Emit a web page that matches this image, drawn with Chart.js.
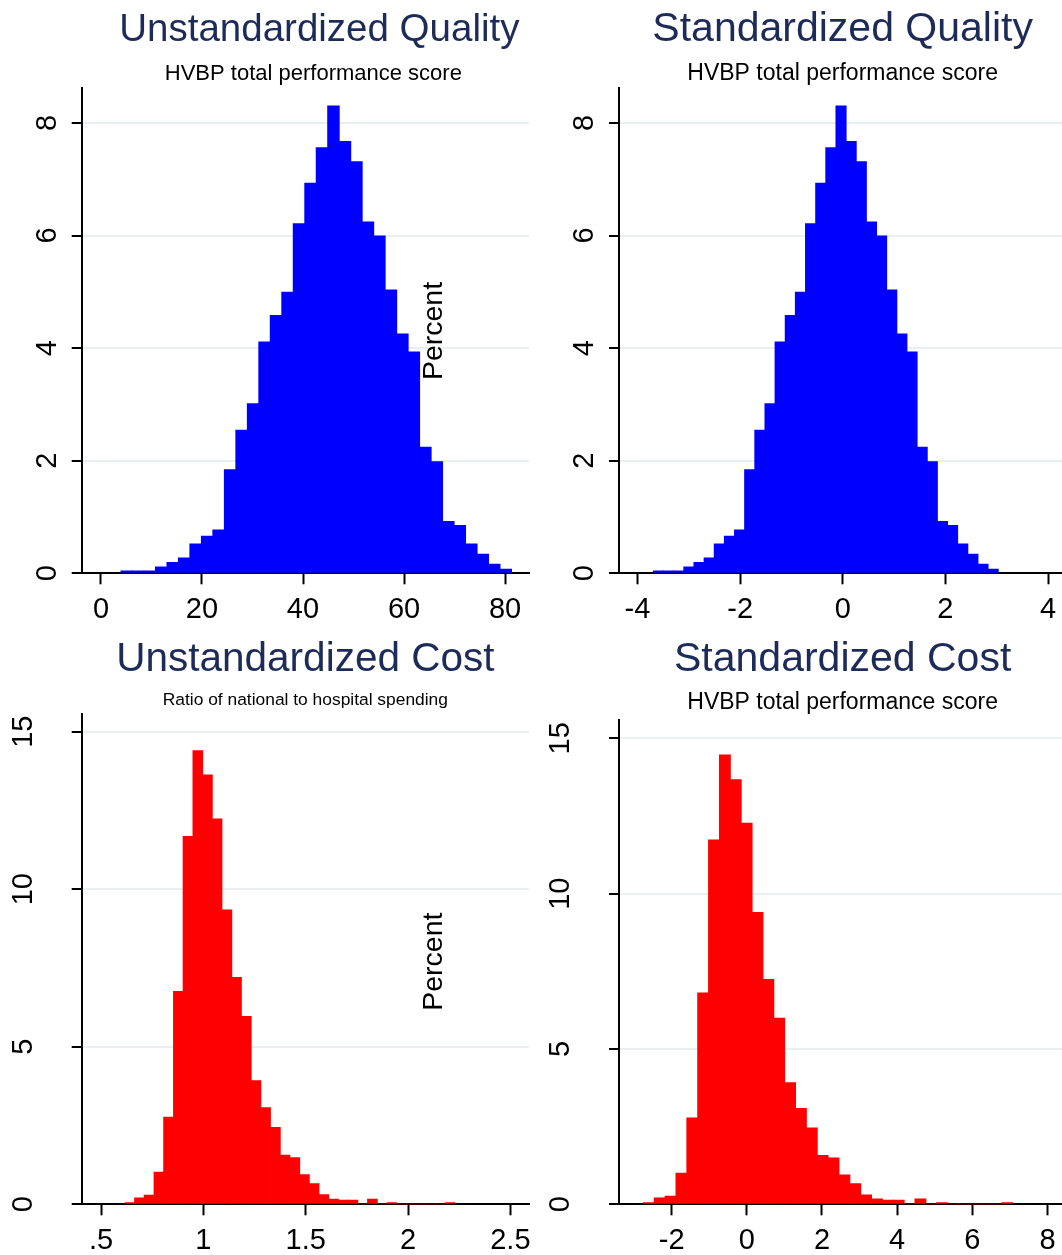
<!DOCTYPE html>
<html>
<head>
<meta charset="utf-8">
<script src="https://cdn.jsdelivr.net/npm/chart.js@4.4.1/dist/chart.umd.min.js"></script>
<style>
  html, body { margin: 0; padding: 0; background: #fff; overflow: hidden; }
  #wrap { position: relative; width: 1062px; height: 1255px; overflow: hidden; }
  canvas { position: absolute; }
</style>
</head>
<body>
<div id="wrap">
  <canvas id="c1" width="531" height="630" style="left:0;top:0"></canvas>
  <canvas id="c2" width="540" height="630" style="left:531px;top:0"></canvas>
  <canvas id="c3" width="531" height="625" style="left:0;top:630px"></canvas>
  <canvas id="c4" width="540" height="625" style="left:531px;top:630px"></canvas>
</div>
<script>
// histogram bins: mid-points and percent of hospitals in each bin
const qualityRawBins = [5.10, 7.37, 9.65, 11.92, 14.20, 16.47, 18.74, 21.02, 23.29, 25.57, 27.84, 30.12,
  32.39, 34.66, 36.94, 39.21, 41.49, 43.76, 46.03, 48.31, 50.58, 52.86, 55.13, 57.41, 59.68, 61.95,
  64.23, 66.50, 68.78, 71.05, 73.33, 75.60, 77.87, 80.15];
const qualityStdBins = [-3.591, -3.393, -3.196, -2.998, -2.801, -2.603, -2.405, -2.208, -2.010, -1.813,
  -1.615, -1.417, -1.220, -1.022, -0.825, -0.627, -0.429, -0.232, -0.034, 0.163, 0.361, 0.559, 0.756,
  0.954, 1.151, 1.349, 1.547, 1.744, 1.942, 2.139, 2.337, 2.535, 2.732, 2.930];
const qualityPct = [0.04, 0.04, 0.04, 0.11, 0.19, 0.27, 0.52, 0.66, 0.77, 1.84, 2.54, 3.01, 4.11, 4.58,
  4.99, 6.21, 6.93, 7.56, 8.30, 7.67, 7.31, 6.24, 5.99, 5.03, 4.25, 3.93, 2.24, 1.98, 0.92, 0.85, 0.52,
  0.34, 0.16, 0.07];

const costRawBins = [0.641, 0.688, 0.735, 0.783, 0.830, 0.878, 0.925, 0.973, 1.020, 1.067, 1.115, 1.162,
  1.210, 1.257, 1.304, 1.352, 1.399, 1.447, 1.494, 1.541, 1.589, 1.636, 1.684, 1.731, 1.778, 1.826,
  1.873, 1.921, 1.968, 2.016, 2.063, 2.110, 2.158, 2.205];
const costRawPct = [0.05, 0.20, 0.29, 1.02, 2.76, 6.75, 11.67, 14.39, 13.62, 12.23, 9.34, 7.20, 5.96,
  3.92, 3.06, 2.44, 1.56, 1.48, 0.94, 0.65, 0.30, 0.16, 0.13, 0.13, 0, 0.16, 0, 0.05, 0, 0, 0, 0, 0, 0.05];
const costStdBins = [-2.606, -2.317, -2.028, -1.739, -1.450, -1.161, -0.872, -0.583, -0.294, -0.005,
  0.284, 0.573, 0.862, 1.151, 1.440, 1.729, 2.018, 2.307, 2.596, 2.885, 3.174, 3.463, 3.752, 4.041,
  4.330, 4.619, 4.908, 5.197, 5.486, 5.775, 6.064, 6.353, 6.642, 6.931];
const costStdPct = [0.05, 0.20, 0.26, 1.00, 2.78, 6.80, 11.73, 14.46, 13.67, 12.27, 9.39, 7.24, 5.99,
  3.91, 3.08, 2.46, 1.57, 1.49, 0.94, 0.66, 0.30, 0.17, 0.13, 0.13, 0, 0.17, 0, 0.05, 0, 0, 0, 0, 0, 0.05];

// axis ticks and their labels
const qualityRawTicks = [0, 20, 40, 60, 80];
const qualityRawLabels = ['0', '20', '40', '60', '80'];
const qualityStdTicks = [-4, -2, 0, 2, 4];
const qualityStdLabels = ['-4', '-2', '0', '2', '4'];
const costRawTicks = [0.5, 1, 1.5, 2, 2.5];
const costRawLabels = ['.5', '1', '1.5', '2', '2.5'];
const costStdTicks = [-2, 0, 2, 4, 6, 8];
const costStdLabels = ['-2', '0', '2', '4', '6', '8'];
const qualityYTicks = [0, 2, 4, 6, 8];
const qualityYLabels = ['0', '2', '4', '6', '8'];
const costYTicks = [0, 5, 10, 15];
const costYLabels = ['0', '5', '10', '15'];

const FONT = "'Liberation Sans', Arial, Helvetica, sans-serif";
Chart.defaults.font.family = FONT;

// the stray "Percent" axis title sitting inside the left panels
const percentLabel = {
  id: 'percentLabel',
  afterDraw(chart, args, opts) {
    if (!opts.text) return;
    const ctx = chart.ctx;
    ctx.save();
    ctx.translate(opts.x, opts.y);
    ctx.rotate(-Math.PI / 2);
    ctx.font = opts.size + 'px ' + FONT;
    ctx.fillStyle = '#000';
    ctx.textAlign = 'center';
    ctx.textBaseline = 'middle';
    ctx.fillText(opts.text, 0, 0);
    ctx.restore();
  }
};

// nudge title / subtitle sideways (the first panel's titles sit off-centre)
const titleShift = {
  id: 'titleShift',
  afterLayout(chart, args, opts) {
    chart.boxes.forEach(b => {
      const t = b.options && b.options.text;
      const dx = t === chart.options.plugins.title.text ? opts.title
        : t === chart.options.plugins.subtitle.text ? opts.sub : 0;
      if (dx) { b.left += dx; b.right += dx; }
    });
  }
};

function panel(id, o) {
  return new Chart(document.getElementById(id), {
    type: 'bar',
    data: {
      datasets: [{
        data: o.bins.map((b, i) => ({ x: b, y: o.pct[i] })),
        backgroundColor: o.color,
        borderWidth: 0,
        barPercentage: 1,
        categoryPercentage: 1,
        inflateAmount: 0.5
      }]
    },
    options: {
      responsive: false,
      animation: false,
      devicePixelRatio: 1,
      layout: { padding: { left: 0, top: 0, right: o.padRight, bottom: 0 } },
      plugins: {
        legend: { display: false },
        tooltip: { enabled: false },
        title: {
          display: true, text: o.title, color: '#1d2b59', fullSize: false,
          font: { size: o.titleSize, weight: 'normal' }, padding: { top: o.titleTop, bottom: 0 }
        },
        subtitle: {
          display: true, text: o.sub, color: '#000', fullSize: false,
          font: { size: o.subSize, weight: 'normal' }, padding: { top: o.subTop, bottom: o.subBottom }
        },
        percentLabel: o.percent || {},
        titleShift: o.shift || { title: 0, sub: 0 }
      },
      scales: {
        x: {
          type: 'linear', min: o.xMin, max: o.xMax, offset: false,
          afterBuildTicks: s => { s.ticks = o.xTicks.map(v => ({ value: v })); },
          afterFit: s => { s.height = o.xHeight; s.paddingLeft = 0; s.paddingRight = 0; },
          ticks: {
            autoSkip: false, maxRotation: 0, padding: 8, color: '#000',
            font: { size: 29 }, callback: (v, i) => o.xLabels[i]
          },
          grid: { offset: false, drawOnChartArea: false, tickLength: 11, tickColor: '#000', tickWidth: 2 },
          border: { color: '#000', width: 2 }
        },
        y: {
          type: 'linear', min: 0, max: o.yMax,
          afterBuildTicks: s => { s.ticks = o.yTicks.map(v => ({ value: v })); },
          afterFit: s => { s.width = o.yWidth; s.paddingTop = 0; s.paddingBottom = 0; },
          ticks: {
            minRotation: 90, maxRotation: 90, crossAlign: 'center', padding: o.yPad,
            color: '#000', font: { size: 29 }, callback: (v, i) => o.yLabels[i]
          },
          grid: { color: '#e8f0f2', lineWidth: 2, tickLength: 10, tickColor: '#000', tickWidth: 2 },
          border: { color: '#000', width: 2 }
        }
      }
    },
    plugins: [percentLabel, titleShift]
  });
}

panel('c1', {
  bins: qualityRawBins, pct: qualityPct, color: '#0000ff',
  title: 'Unstandardized Quality', titleSize: 38.5, titleTop: 6.9,
  sub: 'HVBP total performance score', subSize: 22, subTop: 7.5, subBottom: 1,
  xMin: -3.82, xMax: 84.75, xTicks: qualityRawTicks, xLabels: qualityRawLabels, xHeight: 56.7,
  yMax: 8.62, yTicks: qualityYTicks, yLabels: qualityYLabels, yWidth: 81.7, yPad: 15.6,
  padRight: 2, percent: { text: 'Percent', x: 434, y: 331, size: 28.5 },
  shift: { title: 14, sub: 8 }
});

panel('c2', {
  bins: qualityStdBins, pct: qualityPct, color: '#0000ff',
  title: 'Standardized Quality', titleSize: 41, titleTop: 5.4,
  sub: 'HVBP total performance score', subSize: 23, subTop: 5.4, subBottom: 0.4,
  xMin: -4.36, xMax: 4.355, xTicks: qualityStdTicks, xLabels: qualityStdLabels, xHeight: 56.7,
  yMax: 8.62, yTicks: qualityYTicks, yLabels: qualityYLabels, yWidth: 88, yPad: 16,
  padRight: 4.7
});

panel('c3', {
  bins: costRawBins, pct: costRawPct, color: '#ff0000',
  title: 'Unstandardized Cost', titleSize: 40.5, titleTop: 5.7,
  sub: 'Ratio of national to hospital spending', subSize: 17.4, subTop: 5.3, subBottom: 3.5,
  xMin: 0.4057, xMax: 2.591, xTicks: costRawTicks, xLabels: costRawLabels, xHeight: 50.7,
  yMax: 15.56, yTicks: costYTicks, yLabels: costYLabels, yWidth: 81.7, yPad: 31.6,
  padRight: 2, percent: { text: 'Percent', x: 434, y: 331.7, size: 28.5 }
});

panel('c4', {
  bins: costStdBins, pct: costStdPct, color: '#ff0000',
  title: 'Standardized Cost', titleSize: 41, titleTop: 5.4,
  sub: 'HVBP total performance score', subSize: 23, subTop: 4.6, subBottom: 3.2,
  xMin: -3.40, xMax: 8.50, xTicks: costStdTicks, xLabels: costStdLabels, xHeight: 50.7,
  yMax: 15.59, yTicks: costYTicks, yLabels: costYLabels, yWidth: 88, yPad: 31.9,
  padRight: 4.7
});
</script>
</body>
</html>
